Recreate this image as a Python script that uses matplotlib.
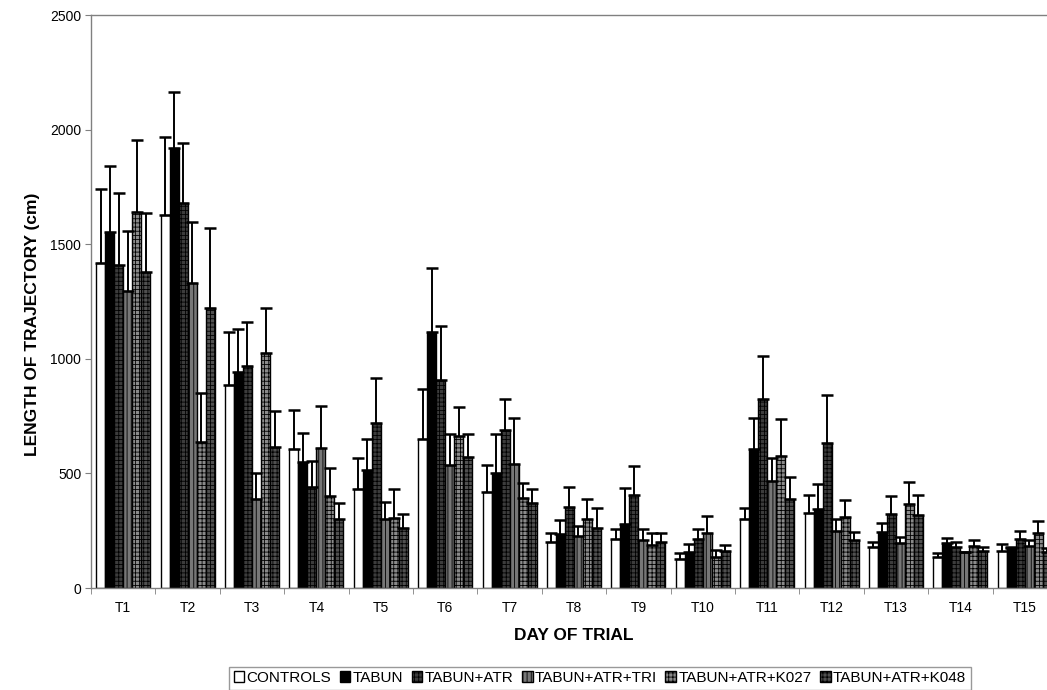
import numpy as np
import matplotlib.pyplot as plt
from matplotlib.patches import Patch

plt.rcParams['font.family'] = ['Liberation Sans', 'DejaVu Sans']
plt.rcParams['hatch.linewidth'] = 0.6

days = ["T%d" % i for i in range(1, 16)]
groups = ["CONTROLS", "TABUN", "TABUN+ATR", "TABUN+ATR+TRI",
          "TABUN+ATR+K027", "TABUN+ATR+K048"]

# mean values (cm)
controls = [1417, 1627, 886, 606, 431, 652, 419, 202, 212, 125, 301, 329, 177, 134, 163]
tabun = [1555, 1918, 941, 548, 515, 1116, 500, 236, 279, 158, 605, 345, 246, 198, 176]
tabun_atr = [1409, 1678, 970, 439, 718, 908, 689, 355, 406, 215, 825, 631, 321, 180, 212]
tabun_atr_tri = [1297, 1329, 387, 612, 302, 537, 540, 227, 209, 239, 467, 250, 198, 156, 185]
tabun_atr_k027 = [1639, 638, 1024, 403, 307, 663, 394, 300, 189, 137, 576, 311, 368, 185, 239]
tabun_atr_k048 = [1380, 1223, 617, 300, 263, 570, 371, 263, 199, 161, 390, 209, 318, 163, 157]

# top of error bars (mean + SD)
controls_top = [1740, 1966, 1118, 777, 566, 867, 535, 239, 257, 151, 350, 404, 201, 154, 191]
tabun_top = [1843, 2165, 1129, 675, 652, 1395, 672, 297, 435, 192, 743, 454, 282, 217, 180]
tabun_atr_top = [1725, 1943, 1162, 556, 915, 1143, 823, 439, 532, 257, 1012, 842, 401, 199, 250]
tabun_atr_tri_top = [1558, 1595, 503, 794, 375, 671, 740, 272, 259, 316, 566, 301, 223, 158, 209]
tabun_atr_k027_top = [1955, 849, 1223, 525, 432, 788, 459, 387, 239, 166, 739, 383, 464, 209, 294]
tabun_atr_k048_top = [1635, 1571, 772, 372, 323, 673, 433, 348, 239, 188, 483, 246, 404, 180, 175]

means = [controls, tabun, tabun_atr, tabun_atr_tri, tabun_atr_k027, tabun_atr_k048]
tops = [controls_top, tabun_top, tabun_atr_top, tabun_atr_tri_top,
        tabun_atr_k027_top, tabun_atr_k048_top]

faces = ["white", "black", "#3c3c3c", "#777777", "#8a8a8a", "#505050"]
hatches = [None, None, "++++", "||||", "++++", "++++"]

fig = plt.figure(figsize=(10.47, 6.9), dpi=100)
ax = fig.add_axes([0.0869, 0.1478, 0.9226, 0.8304])

x = np.arange(len(days))
w = 0.14
for i in range(6):
    m = np.array(means[i])
    t = np.array(tops[i])
    pos = x + (i - 2.5) * w
    ax.bar(pos, m, w, color=faces[i], edgecolor="black", linewidth=1.0,
           hatch=hatches[i], zorder=2)
    ax.errorbar(pos, m, yerr=[np.zeros_like(m), t - m], fmt="none",
                ecolor="black", elinewidth=1.4, capsize=4.5, capthick=1.8,
                zorder=3)

ax.set_xlim(-0.5, len(days) - 0.5)
ax.set_ylim(0, 2500)
ax.set_yticks([0, 500, 1000, 1500, 2000, 2500])
ax.set_xticks(x)
ax.set_xticklabels(days, fontsize=10)
ax.set_xticks(np.arange(-0.5, len(days), 1), minor=True)
ax.tick_params(axis="x", which="major", length=0, pad=9)
ax.tick_params(axis="x", which="minor", length=4, color="#808080", direction="out")
ax.tick_params(axis="y", length=4, color="#808080", labelsize=10, pad=3)

for s in ax.spines.values():
    s.set_color("#808080")
    s.set_linewidth(1.0)

ax.set_xlabel("DAY OF TRIAL", fontsize=12.5, fontweight="bold", labelpad=10)
ax.set_ylabel("LENGTH OF TRAJECTORY (cm)", fontsize=12.5, fontweight="bold")
ax.yaxis.set_label_coords(-0.053, 0.46)

handles = [Patch(facecolor=faces[i], edgecolor="black", hatch=hatches[i], linewidth=1.0)
           for i in range(6)]
leg = fig.legend(handles, groups, loc="upper center", bbox_to_anchor=(0.573, 0.034),
                 ncol=6, fontsize=11, frameon=True, fancybox=False,
                 handlelength=0.7, handleheight=0.7, handletextpad=0.15,
                 columnspacing=0.55, borderpad=0.3, borderaxespad=0)
leg.get_frame().set_edgecolor("#808080")
leg.get_frame().set_linewidth(1.0)

fig.savefig("out.png", dpi=100)
